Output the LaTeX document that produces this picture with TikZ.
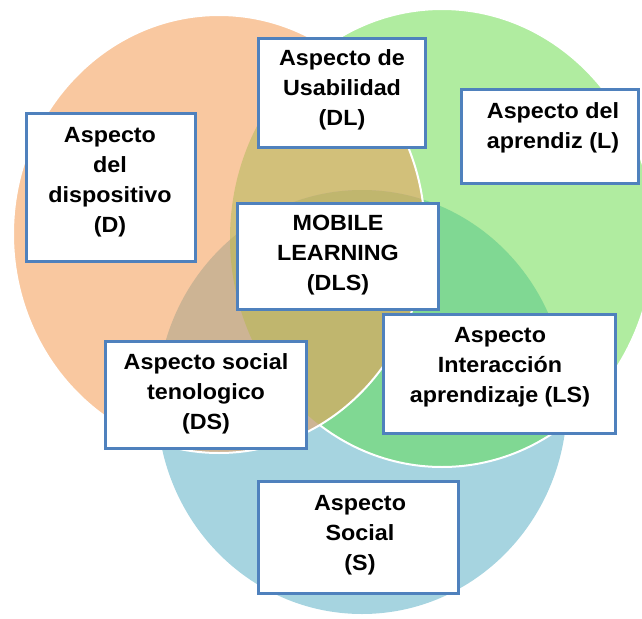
\documentclass[tikz,border=0pt]{standalone}
\usepackage{fontspec}
\setmainfont{Liberation Sans}
\definecolor{cO}{RGB}{249,200,160}
\definecolor{cG}{RGB}{176,236,160}
\definecolor{cB}{RGB}{166,212,224}
\definecolor{cOG}{RGB}{210,192,122}
\definecolor{cOB}{RGB}{205,180,148}
\definecolor{cGB}{RGB}{128,216,147}
\definecolor{cOGB}{RGB}{192,182,110}
\definecolor{boxblue}{RGB}{79,129,189}
\begin{document}
\begin{tikzpicture}[x=1pt,y=-1pt,
  box/.style={draw=boxblue, line width=3pt, fill=white, inner sep=0pt},
  lbl/.style={align=center, font=\bfseries\fontsize{22}{30}\selectfont\addfontfeatures{FakeStretch=1.06}, text=black, inner sep=0pt},
  edge/.style={white, line width=2pt}]
\useasboundingbox (0,0) rectangle (642,618);
\clip (0,0) rectangle (642,618);
% blue circle (S)
\fill[cB] (362,402) ellipse [x radius=205pt, y radius=212pt];
% green circle (L)
\fill[cG] (442,238) ellipse [x radius=212pt, y radius=229pt];
\begin{scope}
  \clip (442,238) ellipse [x radius=212pt, y radius=229pt];
  \fill[cGB] (362,402) ellipse [x radius=205pt, y radius=212pt];
\end{scope}
\draw[edge] (442,238) ellipse [x radius=212pt, y radius=229pt];
% orange circle (D)
\fill[cO] (219,234) ellipse [x radius=206pt, y radius=219pt];
\begin{scope}
  \clip (219,234) ellipse [x radius=206pt, y radius=219pt];
  \fill[cOG] (442,238) ellipse [x radius=212pt, y radius=229pt];
  \fill[cOB] (362,402) ellipse [x radius=205pt, y radius=212pt];
  \clip (442,238) ellipse [x radius=212pt, y radius=229pt];
  \fill[cOGB] (362,402) ellipse [x radius=205pt, y radius=212pt];
\end{scope}
\draw[edge] (219,234) ellipse [x radius=206pt, y radius=219pt];
% boxes
\node[box, minimum width=169pt, minimum height=148pt] (bD) at (111,187.5) {};
\node[box, minimum width=167pt, minimum height=109pt] (bDL) at (342,93) {};
\node[box, minimum width=177pt, minimum height=94pt] (bL) at (550,136.5) {};
\node[box, minimum width=201pt, minimum height=106pt] (bM) at (338,256.5) {};
\node[box, minimum width=232pt, minimum height=119pt] (bLS) at (499.5,374) {};
\node[box, minimum width=201pt, minimum height=107pt] (bDS) at (206,395) {};
\node[box, minimum width=200pt, minimum height=112pt] (bS) at (358.5,537.5) {};
% texts
\node[lbl] (tD) at (110,182) {Aspecto\\del\\dispositivo\\(D)};
\node[lbl] (tDL) at (342,90) {Aspecto de\\Usabilidad\\(DL)};
\node[lbl] (tL) at (553,128) {Aspecto del\\aprendiz (L)};
\node[lbl] (tM) at (338,255) {MOBILE\\LEARNING\\(DLS)};
\node[lbl] (tLS) at (500,367) {Aspecto\\Interacción\\aprendizaje (LS)};
\node[lbl] (tDS) at (206,394) {Aspecto social\\tenologico\\(DS)};
\node[lbl] (tS) at (360,535) {Aspecto\\Social\\(S)};
\end{tikzpicture}
\end{document}
